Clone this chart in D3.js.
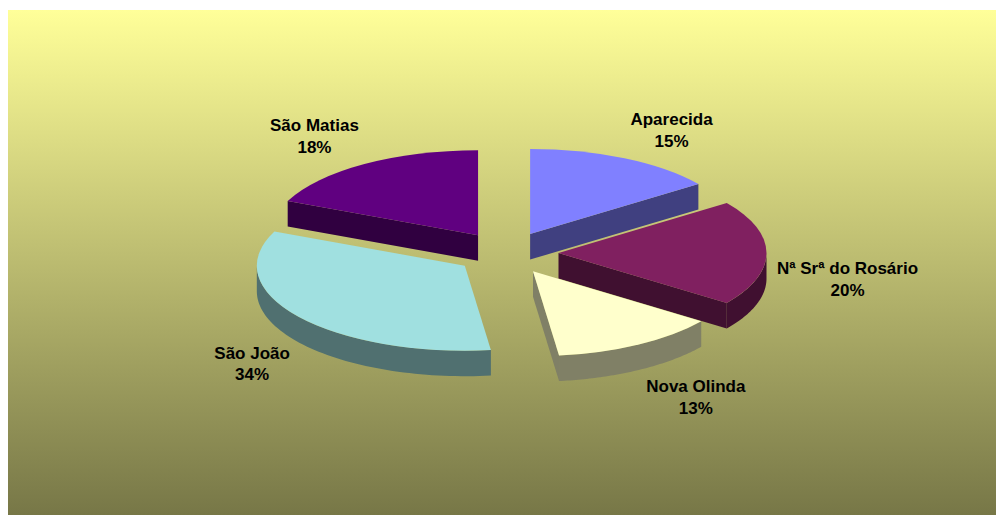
<!DOCTYPE html>
<html>
<head>
<meta charset="utf-8">
<script src="https://cdn.jsdelivr.net/npm/d3@7"></script>
<style>
  html, body { margin: 0; padding: 0; background: #fff; }
  svg { display: block; }
  text { font-family: "Liberation Sans", Arial, sans-serif; font-weight: bold; font-size: 17px; fill: #000; }
</style>
</head>
<body>
<div id="chart"></div>
<script>
// slices, clockwise from 12 o'clock
const neighbourhoods = ['Aparecida', 'Nª Srª do Rosário', 'Nova Olinda', 'São João', 'São Matias'];
const shares = [15, 20, 13, 33.6, 18.4];
const topColors = ['#8080ff', '#802060', '#ffffcc', '#a0e0e0', '#600080'];
const sideColors = ['#404080', '#401030', '#808066', '#507070', '#300040'];

const width = 996;
const height = 515;
const plot = {x: 8, y: 10};

// tilted pie: circle squashed to an ellipse, each slice pulled out along its mid angle
const center = {x: 506.5, y: 253};
const rx = 208;
const ry = 85;
const depth = 25.5;
const explode = 52;
const squash = ry / rx;

// label nudge away from the middle of each slice's rim
const labelNudge = [[47, -22], [81, 32], [57, 59], [-46, 53], [-50, -22]];
const lineGap = 21.6;

const svg = d3.select('#chart')
  .append('svg')
    .attr('width', width)
    .attr('height', height);

const grad = svg.append('defs')
  .append('linearGradient')
    .attr('id', 'bg')
    .attr('x1', 0).attr('y1', 0)
    .attr('x2', 0).attr('y2', 1);
grad.append('stop').attr('offset', 0).attr('stop-color', '#ffff99');
grad.append('stop').attr('offset', 1).attr('stop-color', '#777747');

svg.append('rect')
  .attr('x', plot.x)
  .attr('y', plot.y)
  .attr('width', width - plot.x)
  .attr('height', height - plot.y)
  .attr('fill', 'url(#bg)');

const pie = d3.pie().sort(null).value(d => d.share);
const slices = pie(neighbourhoods.map((name, i) => ({
  name, share: shares[i], top: topColors[i], side: sideColors[i], nudge: labelNudge[i]
})));

// polar to screen, relative to the slice's own apex
const rim = (a, r = 1) => [rx * r * Math.sin(a), -ry * r * Math.cos(a)];
slices.forEach(s => {
  s.mid = (s.startAngle + s.endAngle) / 2;
  const off = rim(s.mid, explode / rx);
  s.apex = [center.x + off[0], center.y + off[1]];
});

const wall = d3.area()
  .x(d => d[0])
  .y0(d => d[1])
  .y1(d => d[1] + depth);

const sector = d3.arc().innerRadius(0).outerRadius(rx);

// only the faces turned towards the viewer get drawn
function visibleFaces(d) {
  const faces = [];
  if (Math.sin(d.startAngle) < -1e-6) faces.push([[0, 0], rim(d.startAngle)]);
  if (Math.sin(d.endAngle) > 1e-6) faces.push([rim(d.endAngle), [0, 0]]);
  const from = Math.max(d.startAngle, Math.PI / 2);
  const to = Math.min(d.endAngle, Math.PI * 1.5);
  if (from < to) faces.push(d3.range(0, 61).map(i => rim(from + (to - from) * i / 60)));
  return faces;
}

// back slices first so the front ones sit on top
const drawOrder = slices.slice().sort((a, b) => (a.apex[1] - ry * Math.cos(a.mid)) - (b.apex[1] - ry * Math.cos(b.mid)));

const groups = svg.selectAll('g.slice')
  .data(drawOrder)
  .join('g')
    .attr('class', 'slice')
    .attr('transform', d => `translate(${d.apex[0]},${d.apex[1]})`);

groups.each(function(d) {
  const g = d3.select(this);
  g.selectAll('path.wall')
    .data(visibleFaces(d))
    .join('path')
      .attr('class', 'wall')
      .attr('d', wall)
      .attr('fill', d.data.side);
  g.append('path')
    .attr('transform', `scale(1,${squash})`)
    .attr('d', sector(d))
    .attr('fill', d.data.top);
});

const labels = svg.selectAll('text.label')
  .data(slices)
  .join('text')
    .attr('class', 'label')
    .attr('text-anchor', 'middle')
    .attr('transform', d => {
      const p = rim(d.mid);
      return `translate(${d.apex[0] + p[0] + d.data.nudge[0]},${d.apex[1] + p[1] + d.data.nudge[1]})`;
    });
labels.append('tspan').attr('x', 0).attr('y', -11).text(d => d.data.name);
labels.append('tspan').attr('x', 0).attr('y', -11 + lineGap).text(d => `${d3.format('.0f')(d.data.share)}%`);
</script>
</body>
</html>
